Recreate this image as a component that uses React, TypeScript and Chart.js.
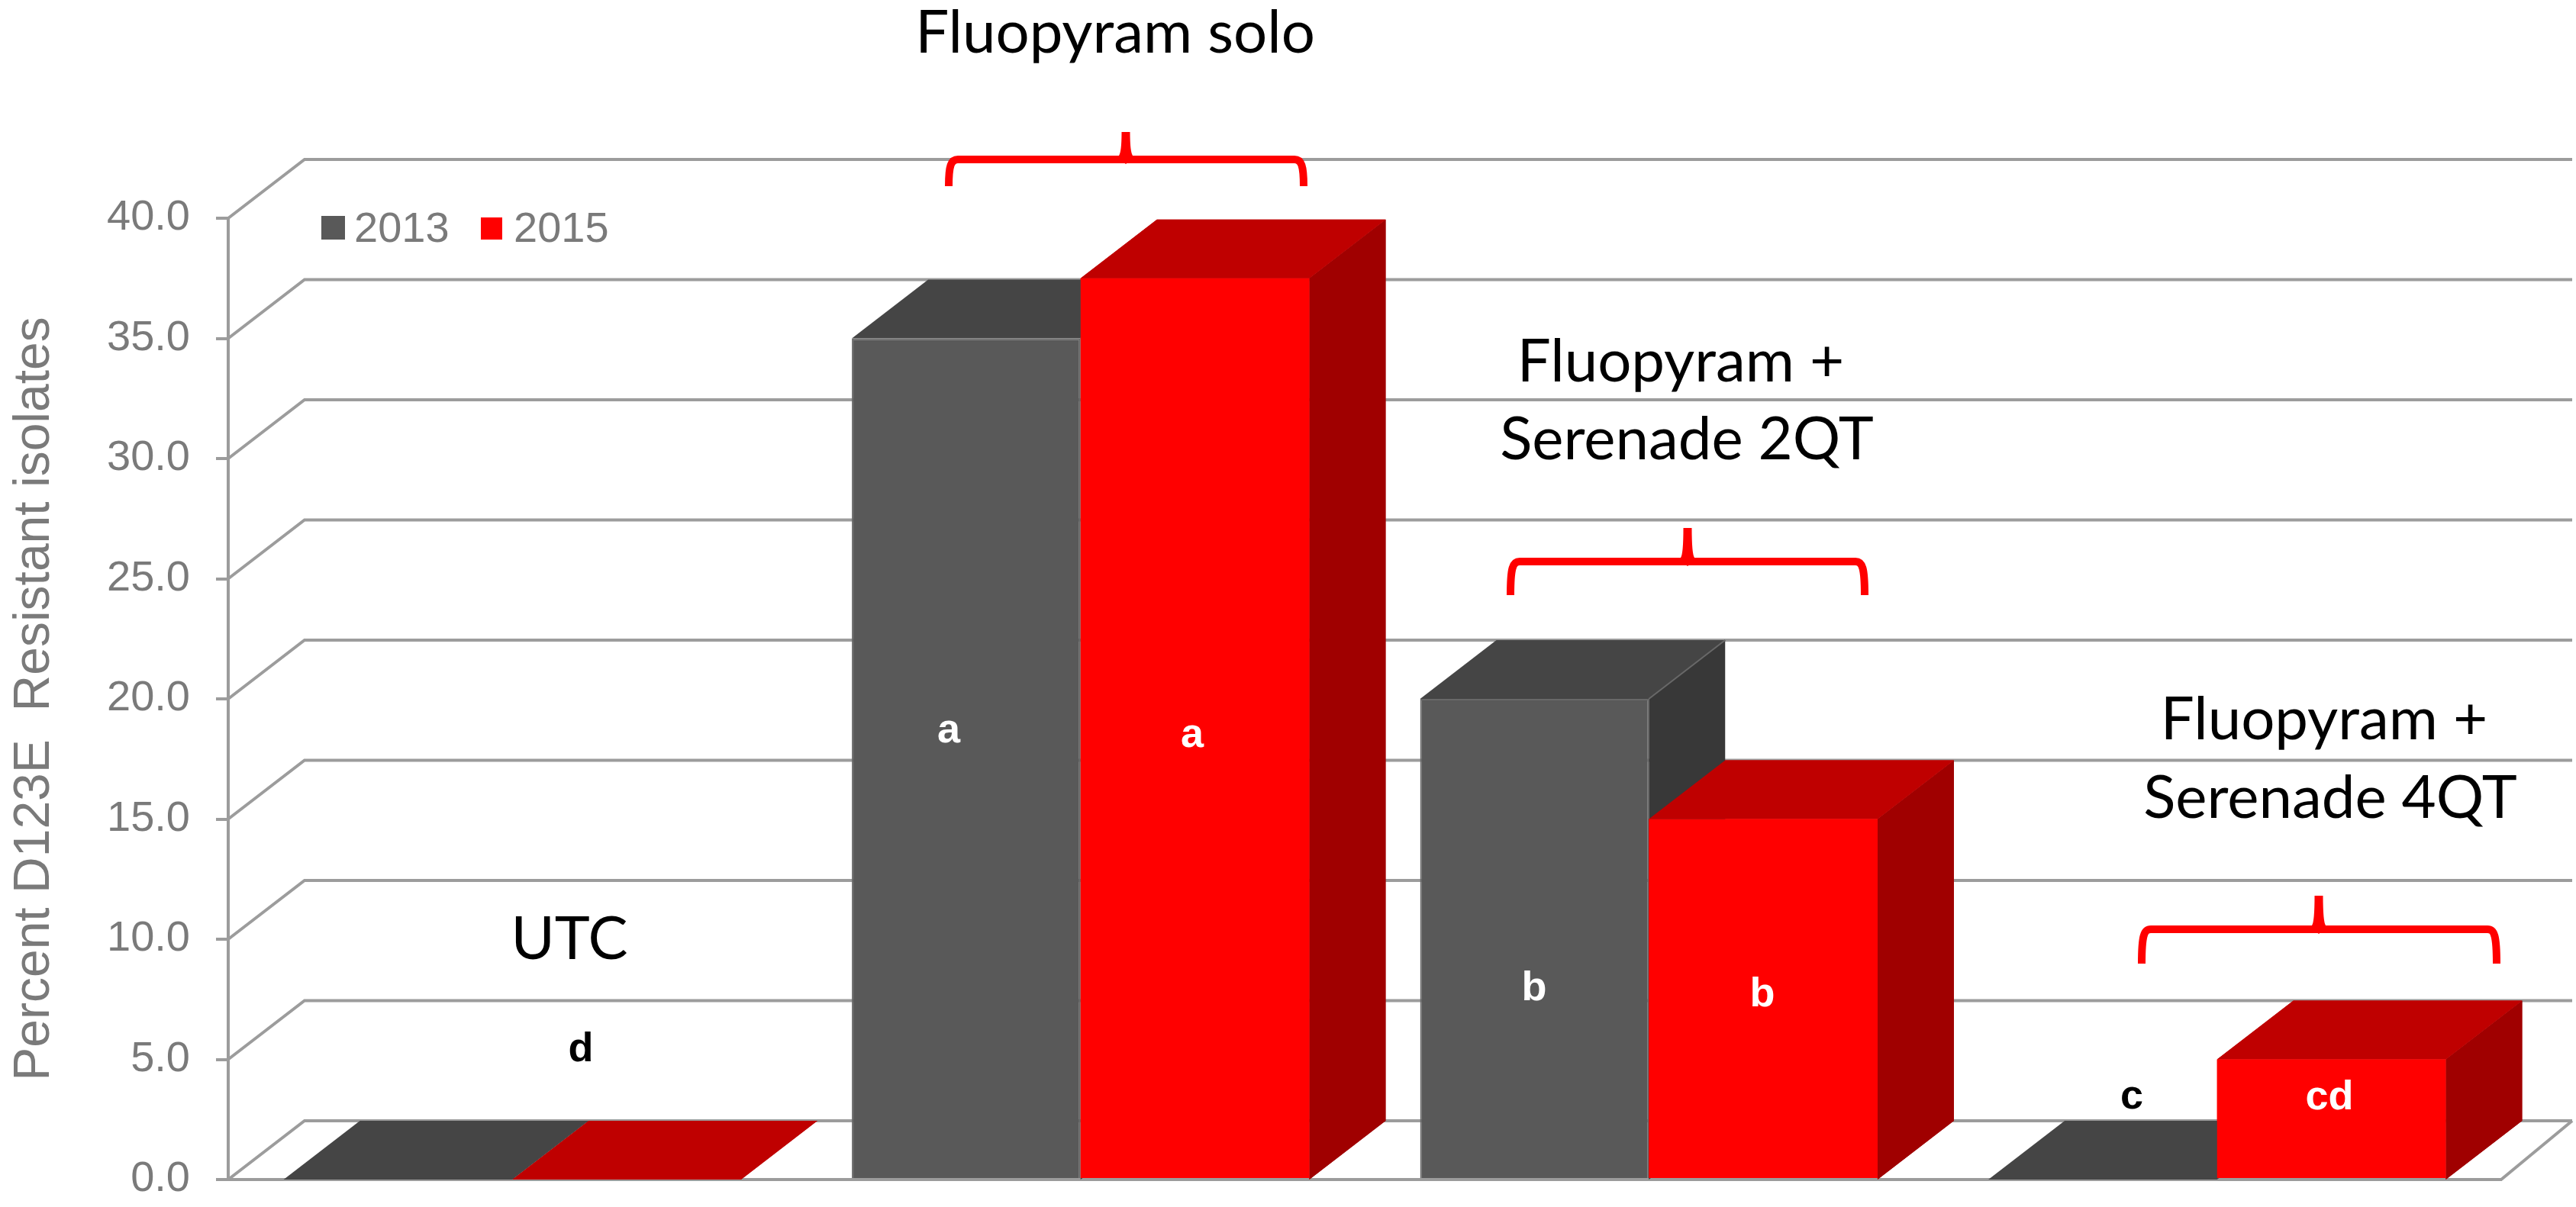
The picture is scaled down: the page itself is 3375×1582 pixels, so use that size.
import React, { useEffect, useRef } from "react";
import { Chart, registerables } from "chart.js";

Chart.register(...registerables);

const categories = ["UTC", "Fluopyram solo", "Fluopyram + Serenade 2QT", "Fluopyram + Serenade 4QT"];
const values2013 = [0, 35.0, 20.0, 0];
const values2015 = [0, 37.5, 15.0, 5.0];
const yTicks = [0, 5, 10, 15, 20, 25, 30, 35, 40];
const seriesNames = ["2013", "2015"];

const SANS = '"Liberation Sans", Arial, sans-serif';
const TITLE_FONT = "Lato, sans-serif";
const GREY_TEXT = "#7a7a7a";
const WALL = "#9c9c9c";

const DEPTH_X = 100;
const DEPTH_Y = 77;
const WALL_RIGHT_DX = 93;

const faces = [
  { front: "#595959", top: "#454545", side: "#383838", edge: "#686868" },
  { front: "#ff0000", top: "#bf0000", side: "#a00000", edge: "" },
];

const labels = [
  { text: "Fluopyram solo", x: 1461, y: 69 },
  { text: "Fluopyram +", x: 2202, y: 500 },
  { text: "Serenade 2QT", x: 2210, y: 602 },
  { text: "Fluopyram +", x: 3045, y: 969 },
  { text: "Serenade 4QT", x: 3053, y: 1072 },
  { text: "UTC", x: 746, y: 1257 },
];

const letters = [
  { text: "d", x: 761, y: 1391, color: "#000000" },
  { text: "a", x: 1243, y: 973, color: "#ffffff" },
  { text: "a", x: 1562, y: 979, color: "#ffffff" },
  { text: "b", x: 2010, y: 1311, color: "#ffffff" },
  { text: "b", x: 2309, y: 1319, color: "#ffffff" },
  { text: "c", x: 2793, y: 1453, color: "#000000" },
  { text: "cd", x: 3052, y: 1454, color: "#ffffff" },
];

const braces = [
  { left: 1243, right: 1708, mid: 1475, tip: 173, bar: 209, end: 244 },
  { left: 1979, right: 2443, mid: 2211, tip: 692, bar: 736, end: 780 },
  { left: 2806, right: 3271, mid: 3038, tip: 1174, bar: 1218, end: 1263 },
];

const legendBoxes = [
  { x: 421, y: 283, w: 31, h: 31, tx: 464 },
  { x: 630, y: 285, w: 28, h: 29, tx: 673 },
];

const polygon = (ctx: CanvasRenderingContext2D, pts: number[][], fill: string) => {
  ctx.beginPath();
  pts.forEach(([x, y], i) => (i ? ctx.lineTo(x, y) : ctx.moveTo(x, y)));
  ctx.closePath();
  ctx.fillStyle = fill;
  ctx.fill();
};

const wallPlugin = {
  id: "wall",
  beforeDatasetsDraw(chart: any) {
    const { ctx, chartArea, scales } = chart;
    const { left, right, bottom } = chartArea;
    ctx.save();
    ctx.strokeStyle = WALL;
    ctx.lineWidth = 4;
    yTicks.forEach((t) => {
      const y = scales.y.getPixelForValue(t);
      ctx.beginPath();
      ctx.moveTo(left, y);
      ctx.lineTo(left + DEPTH_X, y - DEPTH_Y);
      ctx.lineTo(right + WALL_RIGHT_DX, y - DEPTH_Y);
      ctx.stroke();
    });
    ctx.beginPath();
    ctx.moveTo(right, bottom);
    ctx.lineTo(right + WALL_RIGHT_DX, bottom - DEPTH_Y);
    ctx.stroke();
    ctx.restore();
  },
};

const drawDepth = (chart: any, meta: any, c: (typeof faces)[number]) => {
  const { ctx } = chart;
  const base = chart.scales.y.getPixelForValue(0);
  meta.data.forEach((bar: any) => {
    const { x, y, width } = bar.getProps(["x", "y", "width"], true);
    const l = x - width / 2;
    const r = x + width / 2;
    if (base - y > 0.5) {
      polygon(ctx, [[r, y], [r + DEPTH_X, y - DEPTH_Y], [r + DEPTH_X, base - DEPTH_Y], [r, base]], c.side);
    }
    polygon(ctx, [[l, y], [l + DEPTH_X, y - DEPTH_Y], [r + DEPTH_X, y - DEPTH_Y], [r, y]], c.top);
    if (c.edge && base - y > 0.5) {
      ctx.strokeStyle = c.edge;
      ctx.lineWidth = 2;
      ctx.beginPath();
      ctx.moveTo(r, y);
      ctx.lineTo(r + DEPTH_X, y - DEPTH_Y);
      ctx.stroke();
    }
  });
};

// Chart.js paints the first dataset last, so the 2015 bars are painted again on top of the 2013 ones.
const depthPlugin = {
  id: "depth",
  beforeDatasetDraw(chart: any, args: any) {
    chart.ctx.save();
    drawDepth(chart, args.meta, faces[args.index]);
    chart.ctx.restore();
  },
  afterDatasetsDraw(chart: any) {
    const meta = chart.getDatasetMeta(1);
    chart.ctx.save();
    drawDepth(chart, meta, faces[1]);
    meta.data.forEach((bar: any) => bar.draw(chart.ctx));
    chart.ctx.restore();
  },
};

const overlayPlugin = {
  id: "overlay",
  afterDraw(chart: any) {
    const { ctx } = chart;
    ctx.save();
    ctx.textAlign = "center";
    ctx.textBaseline = "alphabetic";
    ctx.fillStyle = "#000000";
    ctx.font = `78px ${TITLE_FONT}`;
    labels.forEach((l) => ctx.fillText(l.text, l.x, l.y));
    ctx.font = `bold 54px ${SANS}`;
    letters.forEach((l) => {
      ctx.fillStyle = l.color;
      ctx.fillText(l.text, l.x, l.y);
    });

    ctx.strokeStyle = "#ff0000";
    ctx.fillStyle = "#ff0000";
    ctx.lineWidth = 10;
    braces.forEach((b) => {
      ctx.beginPath();
      ctx.moveTo(b.left, b.end);
      ctx.bezierCurveTo(b.left, b.bar + 8, b.left + 3, b.bar, b.left + 12, b.bar);
      ctx.lineTo(b.right - 12, b.bar);
      ctx.bezierCurveTo(b.right - 3, b.bar, b.right, b.bar + 8, b.right, b.end);
      ctx.stroke();
      ctx.beginPath();
      ctx.moveTo(b.mid - 5.5, b.tip);
      ctx.lineTo(b.mid + 5.5, b.tip);
      ctx.quadraticCurveTo(b.mid + 5.5, b.bar - 10, b.mid + 9, b.bar - 5);
      ctx.lineTo(b.mid + 9, b.bar + 3);
      ctx.quadraticCurveTo(b.mid + 3, b.bar + 3, b.mid, b.bar + 6);
      ctx.quadraticCurveTo(b.mid - 3, b.bar + 3, b.mid - 9, b.bar + 3);
      ctx.lineTo(b.mid - 9, b.bar - 5);
      ctx.quadraticCurveTo(b.mid - 5.5, b.bar - 10, b.mid - 5.5, b.tip);
      ctx.fill();
    });

    ctx.textAlign = "left";
    ctx.font = `56px ${SANS}`;
    chart.data.datasets.forEach((ds: any, i: number) => {
      const box = legendBoxes[i];
      ctx.fillStyle = ds.backgroundColor;
      ctx.fillRect(box.x, box.y, box.w, box.h);
      ctx.fillStyle = GREY_TEXT;
      ctx.fillText(ds.label, box.tx, 317);
    });
    ctx.restore();
  },
};

export default function App() {
  const ref = useRef<HTMLCanvasElement>(null);

  useEffect(() => {
    document.body.style.margin = "0";
    const chart = new Chart(ref.current as HTMLCanvasElement, {
      type: "bar",
      data: {
        labels: categories,
        datasets: [
          {
            label: seriesNames[0],
            data: values2013,
            backgroundColor: faces[0].front,
            borderColor: faces[0].edge,
            borderWidth: 2,
          },
          {
            label: seriesNames[1],
            data: values2015,
            backgroundColor: faces[1].front,
            borderWidth: 0,
          },
        ],
      },
      options: {
        responsive: false,
        animation: false,
        events: [],
        layout: { padding: { top: 286, right: 98, bottom: 0, left: 0 } },
        datasets: { bar: { categoryPercentage: 0.805, barPercentage: 1 } },
        plugins: {
          legend: { display: false },
          tooltip: { enabled: false },
        },
        scales: {
          x: {
            ticks: { display: false },
            grid: { display: false },
            border: { color: WALL, width: 4 },
            afterFit: (s: any) => {
              s.height = 36;
            },
          },
          y: {
            min: 0,
            max: 40,
            afterFit: (s: any) => {
              s.width = 299;
              s.paddingTop = 0;
              s.paddingBottom = 0;
            },
            afterBuildTicks: (s: any) => {
              s.ticks = yTicks.map((value) => ({ value }));
            },
            ticks: {
              color: GREY_TEXT,
              font: { family: SANS, size: 56 },
              padding: 34,
              callback: (v: any) => Number(v).toFixed(1),
            },
            grid: { drawOnChartArea: false, color: WALL, lineWidth: 4, tickLength: 16 },
            border: { color: WALL, width: 4 },
            title: {
              display: true,
              text: "Percent D123E  Resistant isolates",
              color: GREY_TEXT,
              font: { family: SANS, size: 66 },
              padding: { top: 6, bottom: 0 },
            },
          },
        },
      },
      plugins: [wallPlugin, depthPlugin, overlayPlugin],
    } as any);
    return () => chart.destroy();
  }, []);

  return <canvas ref={ref} width={3375} height={1582} style={{ display: "block" }} />;
}
